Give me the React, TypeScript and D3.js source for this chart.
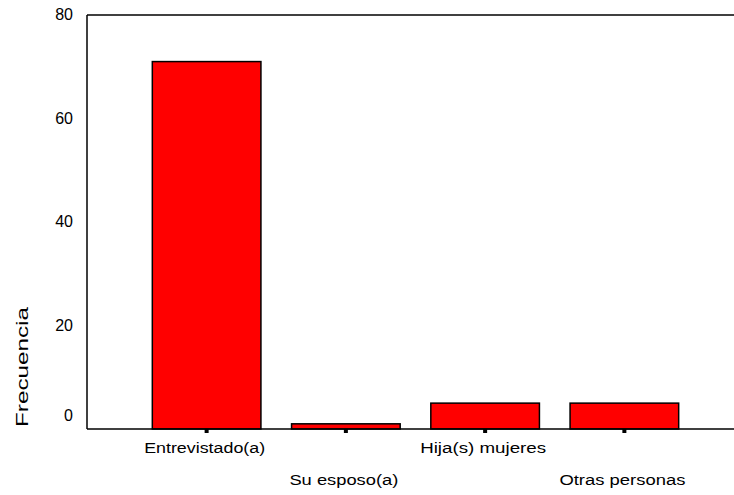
import React from "react";
import * as d3 from "d3";

const categories = ["Entrevistado(a)", "Su esposo(a)", "Hija(s) mujeres", "Otras personas"];
const values = [71, 1, 5, 5];
const yTicks = [0, 20, 40, 60, 80];
const labelWidths = [121, 109, 126, 126];

const W = 734;
const H = 495;

export default function App() {
  const left = 87;
  const top = 15;
  const bottom = 429;
  const x = d3.scaleBand<string>().domain(categories).range([137, 694]).paddingInner(0.22).paddingOuter(0.11);
  const y = d3.scaleLinear().domain([0, 80]).range([bottom, top]);
  const font = "'Liberation Sans', Arial, sans-serif";

  return (
    <svg width={W} height={H} style={{ position: "absolute", left: 0, top: 0, background: "#fff" }}>
      <rect x={0} y={0} width={W} height={H} fill="#fff" />
      <line x1={left} y1={top} x2={W} y2={top} stroke="#000" strokeWidth={1.5} />
      <line x1={left} y1={top} x2={left} y2={bottom} stroke="#000" strokeWidth={1.5} />
      {categories.map((c, i) => (
        <rect
          key={c}
          x={x(c)!}
          y={y(values[i])}
          width={x.bandwidth()}
          height={bottom - y(values[i])}
          fill="#ff0000"
          stroke="#000"
          strokeWidth={1.5}
        />
      ))}
      <line x1={left} y1={bottom} x2={W} y2={bottom} stroke="#000" strokeWidth={1.5} />
      {categories.map((c) => (
        <rect key={c + "t"} x={x(c)! + x.bandwidth() / 2 - 2} y={bottom} width={4} height={4} fill="#000" />
      ))}
      {categories.map((c, i) => (
        <text
          key={c + "l"}
          x={x(c)! + x.bandwidth() / 2 - 2}
          y={i % 2 === 0 ? 453 : 485}
          textAnchor="middle"
          fontFamily={font}
          fontSize={14}
          textLength={labelWidths[i]}
          lengthAdjust="spacingAndGlyphs"
          fill="#000"
        >
          {c}
        </text>
      ))}
      {yTicks.map((t) => (
        <text
          key={t}
          x={73}
          y={t === 0 ? y(t) - 8 : y(t) + 5}
          textAnchor="end"
          fontFamily={font}
          fontSize={16}
          fill="#000"
        >
          {t}
        </text>
      ))}
      <text
        transform={`translate(28,367) rotate(-90)`}
        textAnchor="middle"
        fontFamily={font}
        fontSize={17}
        textLength={120}
        lengthAdjust="spacingAndGlyphs"
        fill="#000"
      >
        Frecuencia
      </text>
    </svg>
  );
}
